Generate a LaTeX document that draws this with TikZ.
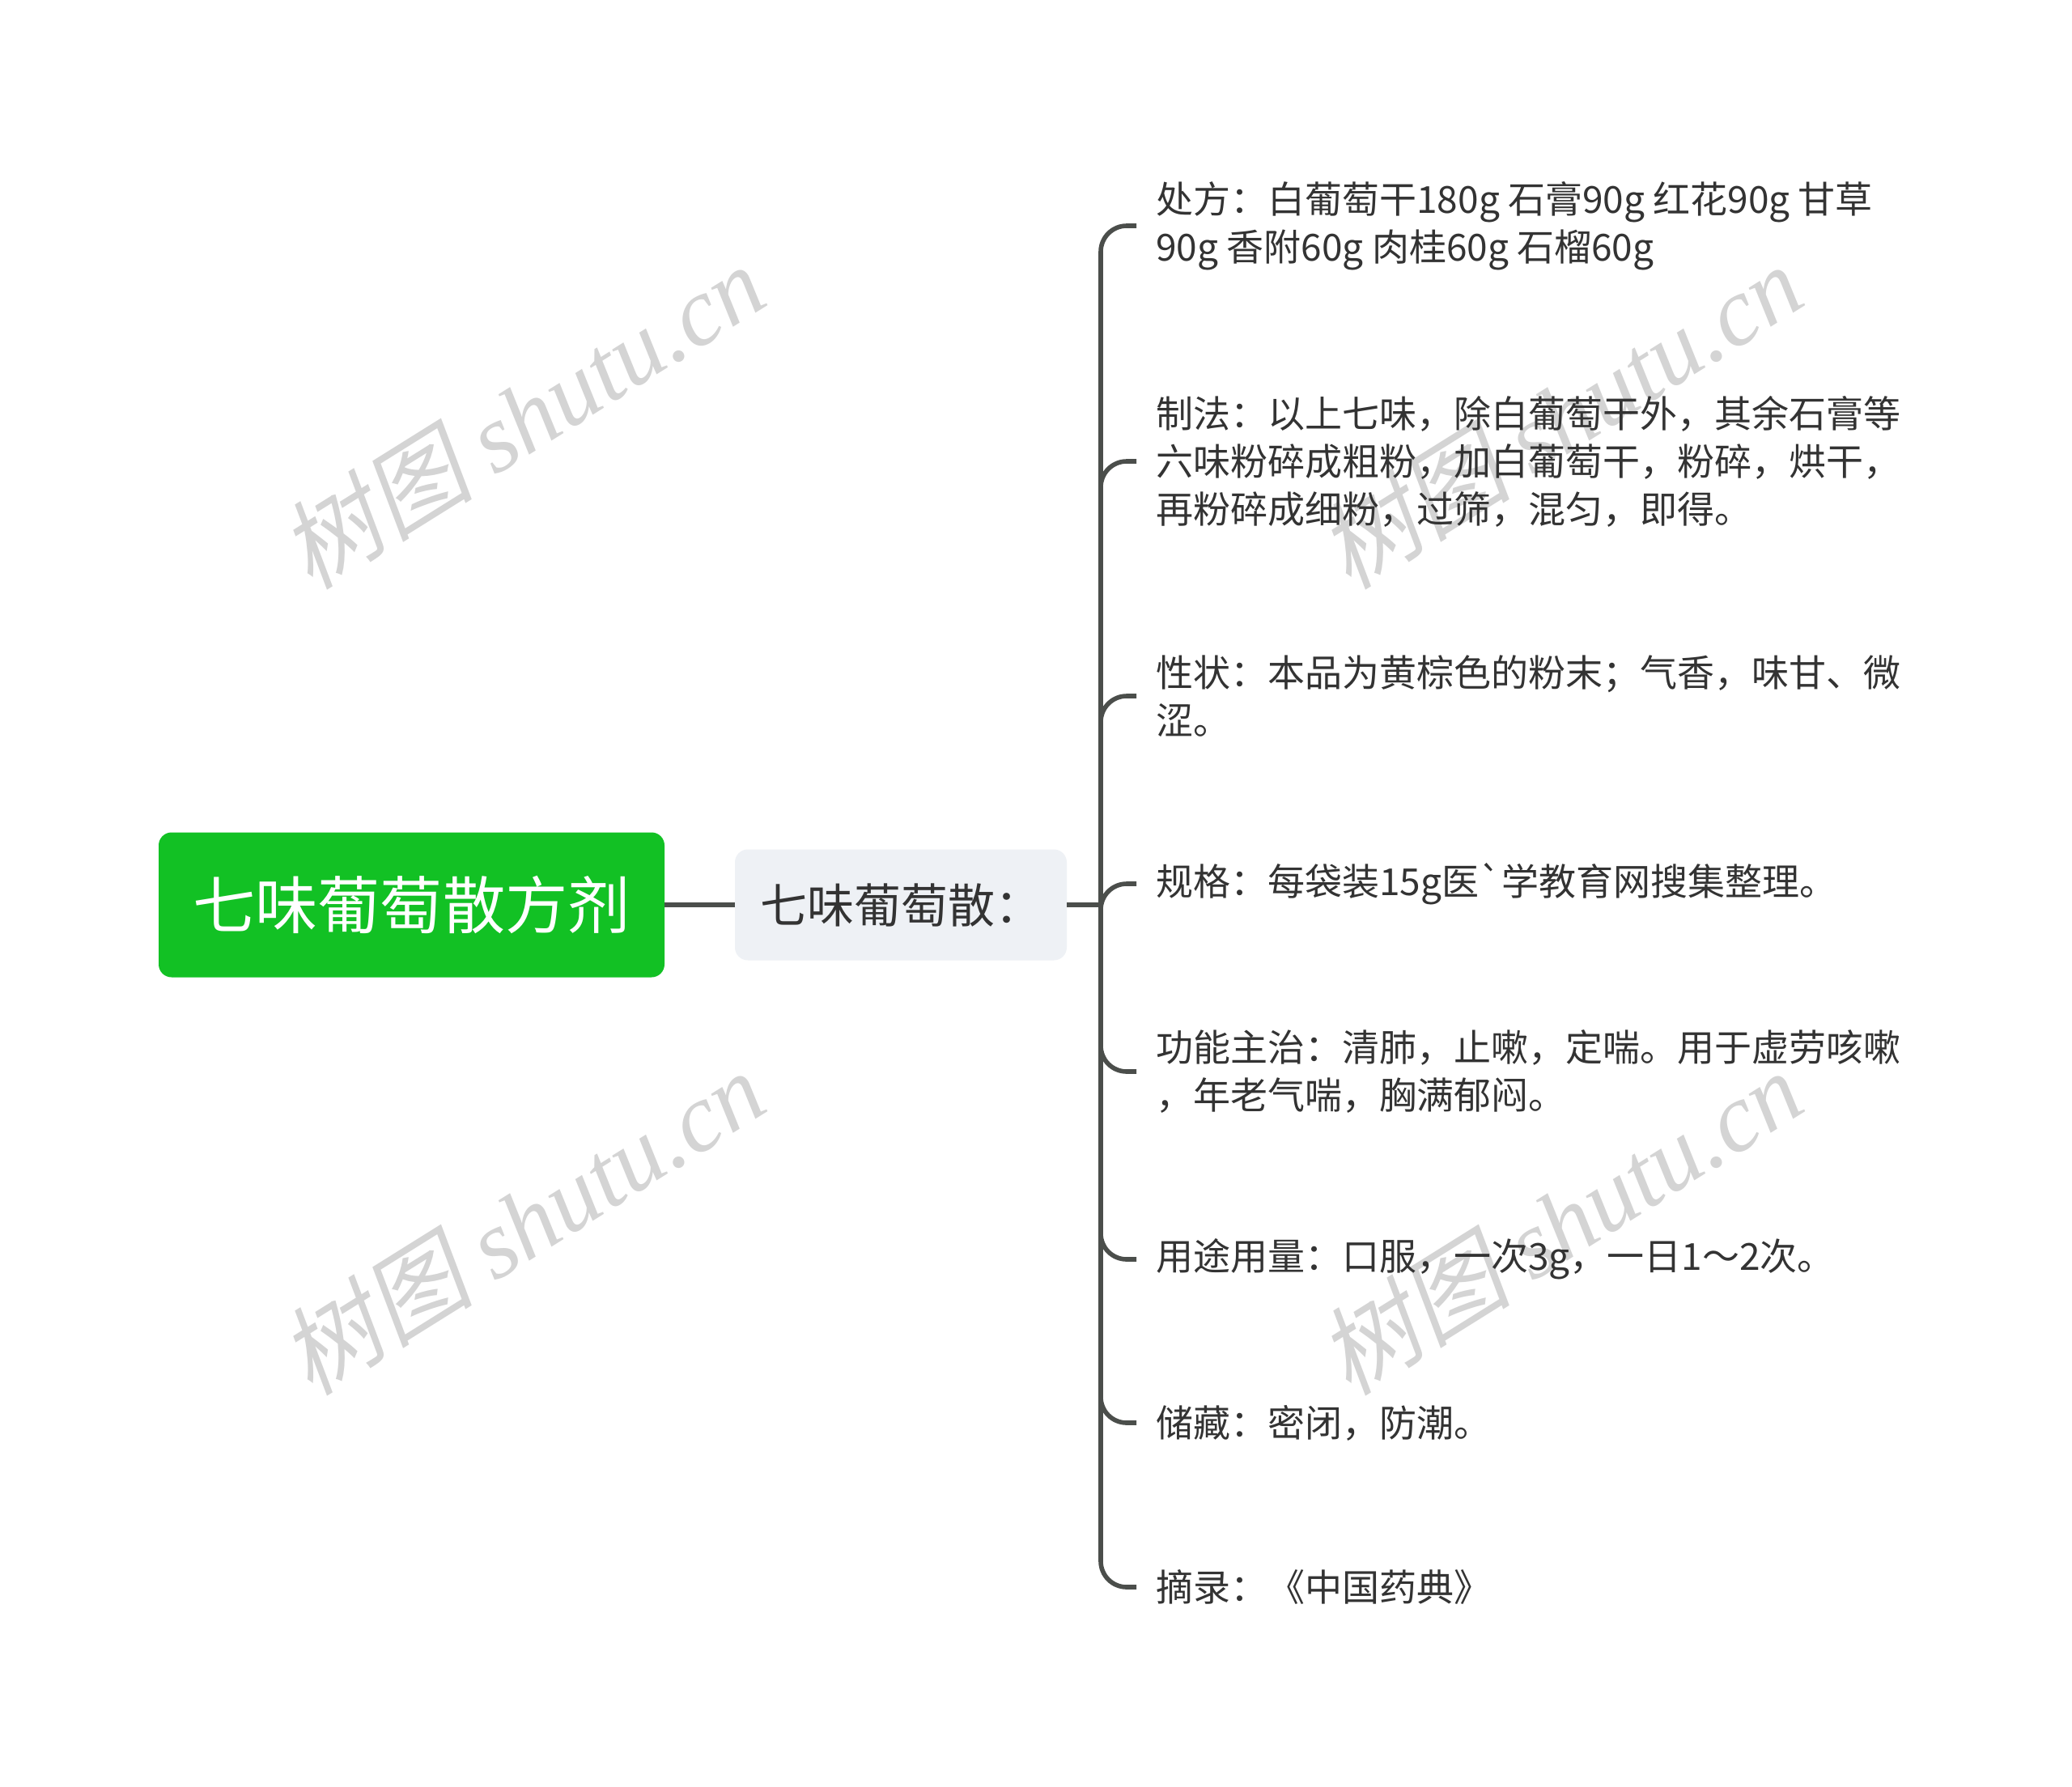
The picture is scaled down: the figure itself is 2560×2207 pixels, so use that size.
\documentclass[tikz,border=0pt]{standalone}
\usepackage{fontspec}
\setmainfont{Noto Sans CJK SC}[Ligatures=TeXOff]
\newfontfamily\wmcjk{Noto Sans CJK SC}[FakeSlant=0.2]
\newfontfamily\wmlat{Liberation Serif}[Ligatures=TeXOff]
\definecolor{rootgreen}{HTML}{12C124}
\definecolor{childfill}{HTML}{EEF1F5}
\definecolor{txt}{HTML}{333333}
\definecolor{linecol}{HTML}{4B4E4B}
\definecolor{wmcol}{HTML}{D4D4D4}
\tikzset{
  rootbox/.style={fill=rootgreen, rounded corners=8pt, minimum width=312.5pt, minimum height=89.5pt, inner sep=0pt, text=white, font=\fontsize{38.6pt}{46pt}\selectfont},
  childbox/.style={fill=childfill, rounded corners=8pt, minimum width=205pt, minimum height=68.5pt, inner sep=0pt, text=txt, font=\fontsize{29pt}{35pt}\selectfont},
  leaf/.style={anchor=west, align=left, inner xsep=12pt, inner ysep=0pt, text=txt, font=\fontsize{23pt}{29.5pt}\selectfont},
  conn/.style={draw=linecol, line width=2.8pt},
  branch/.style={conn, rounded corners=16pt},
  wm/.style={text=wmcol, rotate=32, inner sep=0pt, font=\fontsize{60pt}{70pt}\selectfont}
}
\begin{document}
\begin{tikzpicture}[x=0.5pt,y=-0.5pt]
\useasboundingbox (0,0) rectangle (2560,2207);
\fill[white] (0,0) rectangle (2560,2207);

% watermarks
\node[wm] (wm1) at (645,514) {\wmcjk 树图 \wmlat\itshape shutu.cn};
\node[wm] (wm2) at (1927,514) {\wmcjk 树图 \wmlat\itshape shutu.cn};
\node[wm] (wm3) at (645,1510) {\wmcjk 树图 \wmlat\itshape shutu.cn};
\node[wm] (wm4) at (1927,1510) {\wmcjk 树图 \wmlat\itshape shutu.cn};

\node[rootbox] (root) at (508.5,1118) {七味葡萄散方剂};
\node[childbox] (child) at (1113,1118) {七味葡萄散：};
\coordinate (J) at (1360,1118);

\node[leaf] (l1) at (1404,279) {处方：白葡萄干180g 石膏90g 红花90g 甘草\\90g 香附60g 肉桂60g 石榴60g};
\node[leaf] (l2) at (1404,570) {制法：以上七味，除白葡萄干外，其余石膏等\\六味粉碎成粗粉，加白葡萄干，粉碎，烘干，\\再粉碎成细粉，过筛，混匀，即得。};
\node[leaf] (l3) at (1404,860) {性状：本品为黄棕色的粉末；气香，味甘、微\\涩。};
\node[leaf] (l4) at (1404,1092) {规格：每袋装15g医\char"60 学教育网搜集整理。};
\node[leaf] (l5) at (1404,1324) {功能主治：清肺，止嗽，定喘。用于虚劳咳嗽\\，年老气喘，胸满郁闷。};
\node[leaf] (l6) at (1404,1556) {用途用量：口服，一次3g，一日1～2次。};
\node[leaf] (l7) at (1404,1758) {储藏：密闭，防潮。};
\node[leaf] (l8) at (1404,1961) {摘录：《中国药典》};

\draw[conn] (root.east) -- (child.west);
\draw[conn] (child.east) -- (J);
\foreach \n in {l1,l2,l3,l4,l5,l6,l7,l8}{
  \draw[branch] (J) |- (\n.west);
}
\end{tikzpicture}
\end{document}
